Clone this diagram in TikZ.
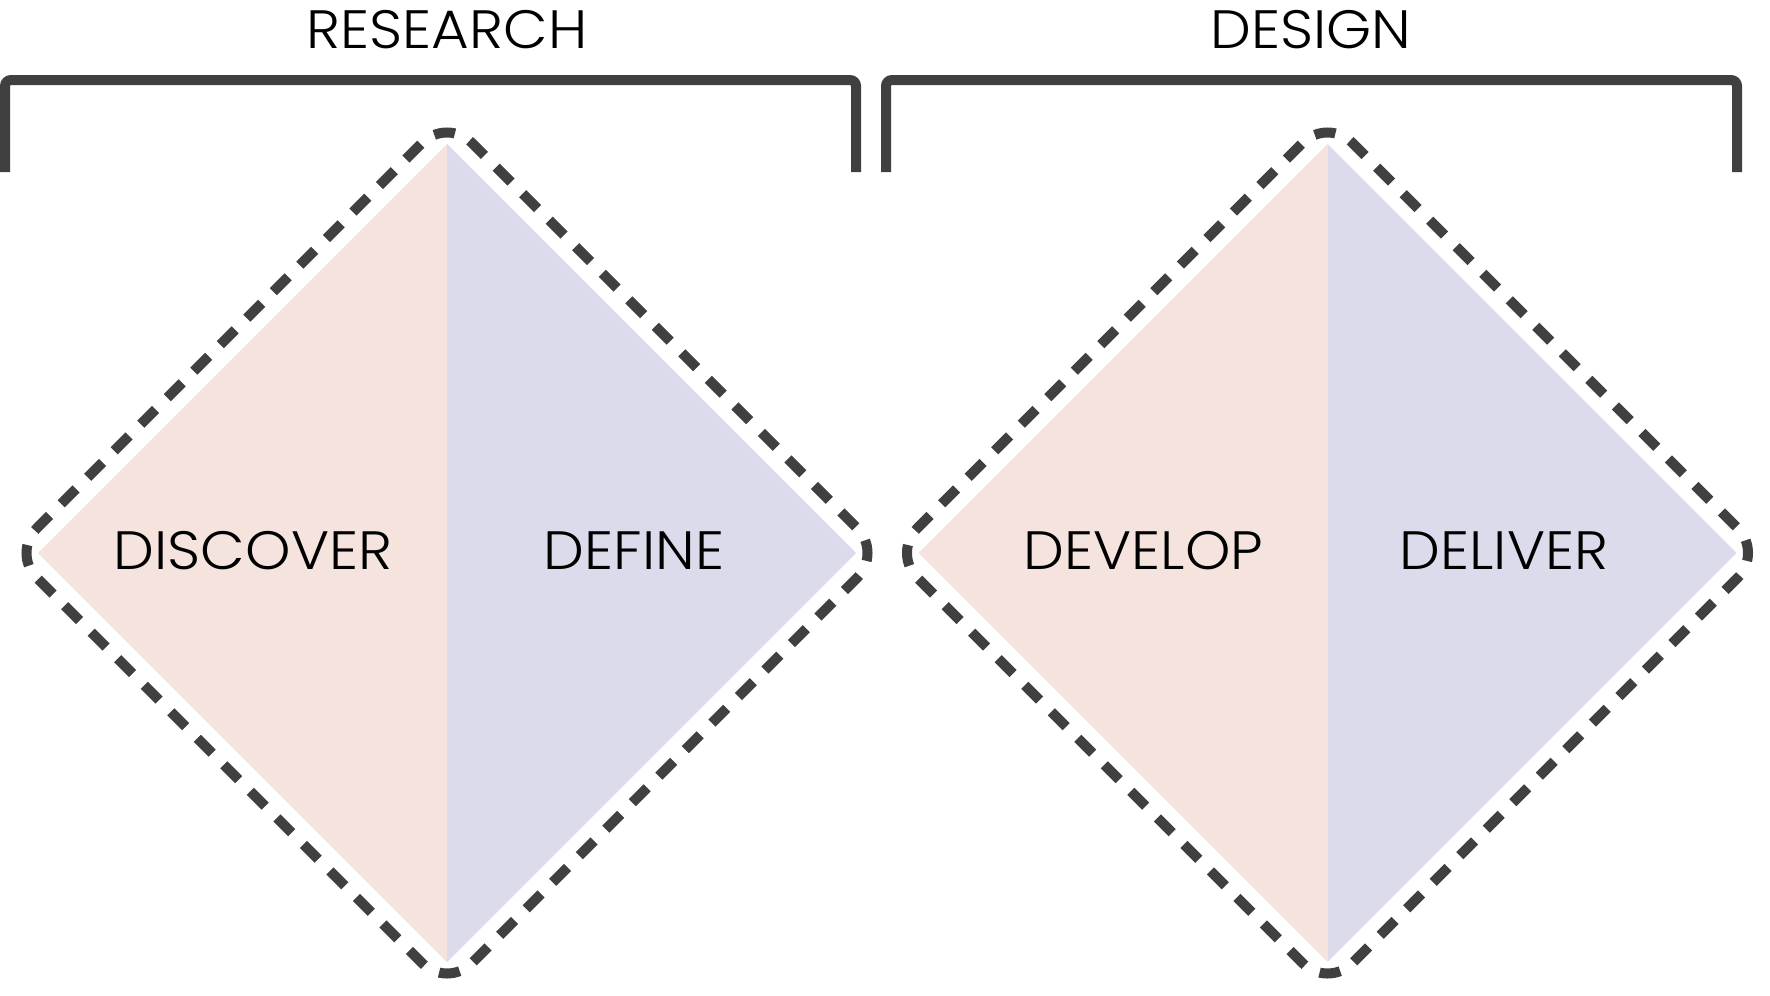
\documentclass[tikz,border=0pt]{standalone}
\usepackage{fontspec}
\IfFontExistsTF{Poppins Light}{\setmainfont{Poppins Light}[FakeStretch=1.07]}{\setmainfont{Poppins}[FakeStretch=1.07]}
\definecolor{pinkfill}{RGB}{245,227,222}
\definecolor{lavfill}{RGB}{220,219,235}
\definecolor{darkline}{RGB}{64,64,64}
\begin{document}
\begin{tikzpicture}[x=1pt,y=-1pt,
  outline/.style={draw=darkline, line width=10pt, dash pattern=on 21pt off 16.51pt, dash phase=10.5pt, rounded corners=35pt},
  bracketline/.style={draw=darkline, line width=10pt, rounded corners=6pt},
  wordlbl/.style={font=\fontsize{54}{60}\selectfont, text=black, anchor=base, inner sep=0pt},
]
\useasboundingbox (0,0) rectangle (1770,996);
\foreach \cx in {447,1327.5} {
  \fill[pinkfill] (\cx,144) -- (\cx-409,553) -- (\cx,962) -- cycle;
  \fill[lavfill] (\cx,144) -- (\cx+409,553) -- (\cx,962) -- cycle;
  \draw[outline] (\cx-217.5,335.5) -- (\cx,118) -- (\cx+435,553) -- (\cx,988) -- (\cx-435,553) -- cycle;
}
\draw[bracketline] (5,172) -- (5,80) -- (856,80) -- (856,172);
\draw[bracketline] (886,172) -- (886,80) -- (1737,80) -- (1737,172);
\node[wordlbl] (research) at (447,48) {RESEARCH};
\node[wordlbl] (design) at (1311,48) {DESIGN};
\node[wordlbl] (discover) at (253,569) {DISCOVER};
\node[wordlbl] (define) at (634,569) {DEFINE};
\node[wordlbl] (develop) at (1143.5,569) {DEVELOP};
\node[wordlbl] (deliver) at (1504,569) {DELIVER};
\end{tikzpicture}
\end{document}
